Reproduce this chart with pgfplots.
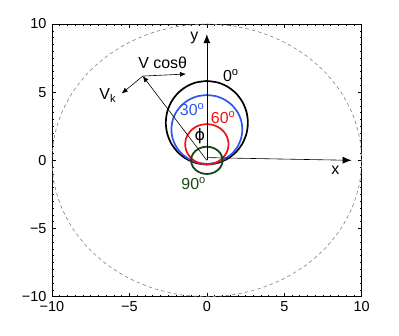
\documentclass[border=0pt]{standalone}
\usepackage{fontspec}
\setmainfont{Liberation Sans}
\newfontfamily\dejavu{DejaVu Sans}
\usepackage{pgfplots}
\pgfplotsset{compat=1.18}
\usetikzlibrary{arrows.meta}

\definecolor{cblue}{RGB}{45,85,240}
\definecolor{cred}{RGB}{235,20,20}
\definecolor{cgreen}{RGB}{25,70,25}

\begin{document}
\fontsize{16}{19}\selectfont
\begin{tikzpicture}
\useasboundingbox (0,0) rectangle (399bp,336bp);
\begin{axis}[
    at={(52bp,39.3bp)}, anchor=south west,
    width=309.7bp, height=272.7bp, scale only axis,
    xmin=-10, xmax=10, ymin=-10, ymax=10,
    xtick={-10,-5,0,5,10}, ytick={-10,-5,0,5,10},
    xticklabels={−10,−5,0,5,10}, yticklabels={−10,−5,0,5,10},
    minor tick num=9,
    tick align=inside,
    major tick length=4bp, minor tick length=2bp,
    tick style={black, line width=0.6bp},
    axis line style={line width=0.9bp},
    tick label style={font=\fontsize{14.5}{17}\selectfont},
    xticklabel style={yshift=1bp},
    clip=false,
]
% dashed reference circle, radius 10
\addplot[gray, line width=0.6bp, dash pattern=on 3.5bp off 3bp, smooth] coordinates {
    (0,10) (1.736,9.848) (3.420,9.397) (5,8.660) (6.428,7.660) (7.660,6.428)
    (8.660,5) (9.397,3.420) (9.848,1.736) (10,0) (9.848,-1.736) (9.397,-3.420)
    (8.660,-5) (7.660,-6.428) (6.428,-7.660) (5,-8.660) (3.420,-9.397) (1.736,-9.848)
    (0,-10) (-1.736,-9.848) (-3.420,-9.397) (-5,-8.660) (-6.428,-7.660) (-7.660,-6.428)
    (-8.660,-5) (-9.397,-3.420) (-9.848,-1.736) (-10,0) (-9.848,1.736) (-9.397,3.420)
    (-8.660,5) (-7.660,6.428) (-6.428,7.660) (-5,8.660) (-3.420,9.397) (-1.736,9.848)
    (0,10)
};
% 0 deg
\addplot[black, line width=1.7bp, smooth] coordinates {
    (0,5.82) (0.686,5.716) (1.325,5.41) (1.874,4.924) (2.295,4.29) (2.560,3.552)
    (2.65,2.76) (2.560,1.968) (2.295,1.23) (1.874,0.596) (1.325,0.11) (0.686,-0.196)
    (0,-0.30) (-0.686,-0.196) (-1.325,0.11) (-1.874,0.596) (-2.295,1.23) (-2.560,1.968)
    (-2.65,2.76) (-2.560,3.552) (-2.295,4.29) (-1.874,4.924) (-1.325,5.41) (-0.686,5.716)
    (0,5.82)
};
% 30 deg
\addplot[cblue, line width=1.7bp, smooth] coordinates {
    (0,4.79) (0.593,4.704) (1.145,4.452) (1.619,4.052) (1.983,3.53) (2.212,2.923)
    (2.29,2.27) (2.212,1.617) (1.983,1.01) (1.619,0.488) (1.145,0.088) (0.593,-0.164)
    (0,-0.25) (-0.593,-0.164) (-1.145,0.088) (-1.619,0.488) (-1.983,1.01) (-2.212,1.617)
    (-2.29,2.27) (-2.212,2.923) (-1.983,3.53) (-1.619,4.052) (-1.145,4.452) (-0.593,4.704)
    (0,4.79)
};
% 60 deg
\addplot[cred, line width=1.7bp, smooth] coordinates {
    (0,2.66) (0.363,2.61) (0.70,2.462) (0.990,2.226) (1.212,1.92) (1.352,1.563)
    (1.40,1.18) (1.352,0.797) (1.212,0.44) (0.990,0.134) (0.70,-0.102) (0.363,-0.25)
    (0,-0.30) (-0.363,-0.25) (-0.70,-0.102) (-0.990,0.134) (-1.212,0.44) (-1.352,0.797)
    (-1.40,1.18) (-1.352,1.563) (-1.212,1.92) (-0.990,2.226) (-0.70,2.462) (-0.363,2.61)
    (0,2.66)
};
% 90 deg
\addplot[cgreen, line width=1.8bp, smooth] coordinates {
    (0,1) (0.264,0.966) (0.51,0.866) (0.721,0.707) (0.883,0.5) (0.985,0.259)
    (1.02,0) (0.985,-0.259) (0.883,-0.5) (0.721,-0.707) (0.51,-0.866) (0.264,-0.966)
    (0,-1) (-0.264,-0.966) (-0.51,-0.866) (-0.721,-0.707) (-0.883,-0.5) (-0.985,-0.259)
    (-1.02,0) (-0.985,0.259) (-0.883,0.5) (-0.721,0.707) (-0.51,0.866) (-0.264,0.966)
    (0,1)
};
% coordinate arrows
\addplot[black, line width=0.6bp, -{Latex[length=9bp,width=7bp]}] coordinates {(0,0) (0,9.25)};
\addplot[black, line width=0.6bp, -{Latex[length=9bp,width=7bp]}] coordinates {(0,0.2) (9.35,0.0)};
\addplot[black, line width=0.6bp, -{Latex[length=6bp,width=5bp]}] coordinates {(0,0) (-4.14,6.18)};
\addplot[black, line width=0.6bp, -{Latex[length=6bp,width=5bp]}] coordinates {(-4.14,6.18) (-1.35,6.33)};
\addplot[black, line width=0.6bp, -{Latex[length=6bp,width=5bp]}] coordinates {(-4.14,6.18) (-5.5,4.9)};

\node at (axis cs:-0.8,9.0) {y};
\node at (axis cs:8.3,-0.75) {x};
\node at (axis cs:-2.85,7.15) {V cosθ};
\node at (axis cs:-6.4,4.75) {V\textsubscript{k}};
\node at (axis cs:-0.45,1.75) {\dejavu ϕ};
\node at (axis cs:1.55,6.2) {0\textsuperscript{o}};
\node[text=cblue] at (axis cs:-0.95,3.75) {30\textsuperscript{o}};
\node[text=cred] at (axis cs:1.05,3.15) {60\textsuperscript{o}};
\node[text=cgreen] at (axis cs:-0.85,-1.7) {90\textsuperscript{o}};
\end{axis}
\end{tikzpicture}
\end{document}
